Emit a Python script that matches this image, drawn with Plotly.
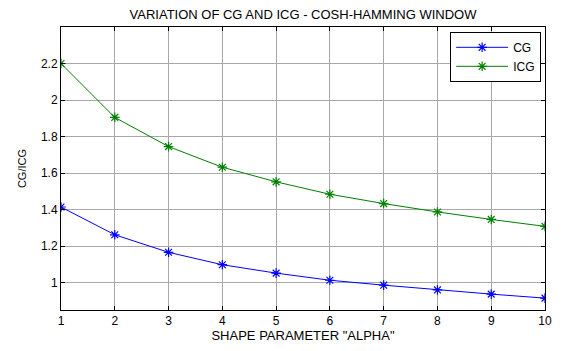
import plotly.graph_objects as go

alpha = [1, 2, 3, 4, 5, 6, 7, 8, 9, 10]
cg = [1.414, 1.262, 1.166, 1.098, 1.052, 1.013, 0.986, 0.960, 0.937, 0.915]
icg = [2.2, 1.905, 1.745, 1.632, 1.552, 1.484, 1.433, 1.387, 1.346, 1.308]
x_ticks = [1, 2, 3, 4, 5, 6, 7, 8, 9, 10]
y_ticks = [1, 1.2, 1.4, 1.6, 1.8, 2, 2.2]
y_ticktext = ["1", "1.2", "1.4", "1.6", "1.8", "2", "2.2"]

fig = go.Figure()
fig.add_trace(go.Scatter(x=alpha, y=cg, name="CG", mode="lines+markers",
                         line=dict(color="#0000ff", width=1),
                         marker=dict(symbol="asterisk-open", size=8,
                                     line=dict(color="#0000ff", width=1.2))))
fig.add_trace(go.Scatter(x=alpha, y=icg, name="ICG", mode="lines+markers",
                         line=dict(color="#008000", width=1),
                         marker=dict(symbol="asterisk-open", size=8,
                                     line=dict(color="#008000", width=1.2))))

axis_common = dict(showline=True, linecolor="black", linewidth=1, mirror="ticks",
                   ticks="inside", ticklen=4, tickcolor="black",
                   showgrid=True, gridcolor="#a8a8a8", gridwidth=1,
                   zeroline=False, tickfont=dict(size=12, color="black"))

fig.update_layout(
    width=567, height=351,
    margin=dict(l=61, r=22, t=27, b=33),
    paper_bgcolor="white", plot_bgcolor="white",
    font=dict(family="Liberation Sans, Arial, sans-serif", size=12, color="black"),
    title=dict(text="VARIATION OF CG AND ICG - COSH-HAMMING WINDOW",
               x=(61 + 545) / 2 / 567, xanchor="center", y=1 - 14 / 351, yanchor="middle",
               font=dict(size=13)),
    xaxis=dict(range=[1, 10], tickvals=x_ticks,
               title=dict(text='SHAPE PARAMETER "ALPHA"', standoff=1, font=dict(size=13)),
               **axis_common),
    yaxis=dict(range=[0.85, 2.4], tickvals=y_ticks, ticktext=y_ticktext,
               title=dict(text="CG/ICG", standoff=12, font=dict(size=11)),
               **axis_common),
    legend=dict(x=0.992, y=0.983, xanchor="right", yanchor="top",
                bordercolor="black", borderwidth=1, bgcolor="white",
                font=dict(size=12), tracegroupgap=0, itemwidth=52),
    showlegend=True,
)

fig.write_html("out.html")
